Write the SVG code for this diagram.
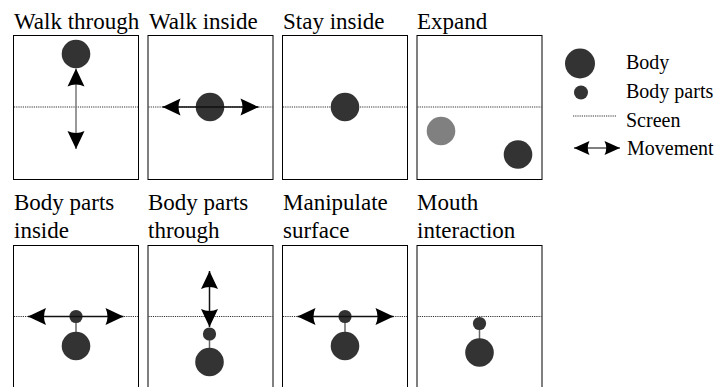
<svg xmlns="http://www.w3.org/2000/svg" width="718" height="387" viewBox="0 0 718 387">
  <style>
    text { font-family: 'Liberation Serif', 'Times New Roman', Times, 'DejaVu Serif', serif; fill: #000; }
    .frame { fill: #fff; stroke: #000; stroke-width: 1; }
    .screen { stroke: #333; stroke-width: 1; stroke-dasharray: 1.2 1; fill: none; }
    .body { fill: #333; }
    .ghost { fill: #808080; }
    .title { font-size: 23px; }
    .legend { font-size: 20px; }
    .move { stroke: #111; stroke-width: 1.5; fill: none; marker-start: url(#head); marker-end: url(#head); }
    .move-grey { stroke: #777; }
    .link { stroke: #666; stroke-width: 1.5; }
  </style>
  <defs>
    <marker id="head" markerUnits="userSpaceOnUse" viewBox="-20 -10 22 20" refX="0" refY="0" markerWidth="22" markerHeight="20" orient="auto-start-reverse" overflow="visible">
      <path d="M0,0 L-18,-8.5 Q-14,0 -18,8.5 Z" fill="#000"/>
    </marker>
    <marker id="head-sm" markerUnits="userSpaceOnUse" viewBox="-20 -10 22 20" refX="0" refY="0" markerWidth="22" markerHeight="20" orient="auto-start-reverse" overflow="visible">
      <path d="M0,0 L-15.5,-7 Q-12,0 -15.5,7 Z" fill="#000"/>
    </marker>
  </defs>

  <rect width="718" height="387" fill="#fff"/>

  <!-- top row -->
  <g id="walk-through">
    <text class="title" x="14" y="29">Walk through</text>
    <rect class="frame" x="13.5" y="35.5" width="125" height="144"/>
    <line class="screen" x1="14" y1="107" x2="138" y2="107"/>
    <circle class="body" cx="76" cy="54" r="14.3"/>
  </g>
  <g id="walk-inside">
    <text class="title" x="149" y="29">Walk inside</text>
    <rect class="frame" x="148" y="35.5" width="125" height="144"/>
    <line class="screen" x1="148.5" y1="107" x2="272.5" y2="107"/>
    <circle class="body" cx="210" cy="107" r="14.3"/>
  </g>
  <g id="stay-inside">
    <text class="title" x="283" y="29">Stay inside</text>
    <rect class="frame" x="282.5" y="35.5" width="125" height="144"/>
    <line class="screen" x1="283" y1="107" x2="407" y2="107"/>
    <circle class="body" cx="345" cy="107" r="14.3"/>
  </g>
  <g id="expand">
    <text class="title" x="417" y="29">Expand</text>
    <rect class="frame" x="417" y="35.5" width="125" height="144"/>
    <line class="screen" x1="417.5" y1="107" x2="541.5" y2="107"/>
    <circle class="ghost" cx="441" cy="131" r="14.3"/>
    <circle class="body" cx="518" cy="154.5" r="14.3"/>
  </g>

  <!-- bottom row -->
  <g id="body-parts-inside">
    <text class="title" x="14" y="210">Body parts</text>
    <text class="title" x="14" y="238">inside</text>
    <rect class="frame" x="13.5" y="245.5" width="125" height="150"/>
    <line class="screen" x1="14" y1="316.5" x2="138" y2="316.5"/>
    <line class="link" x1="76" y1="316.5" x2="76" y2="340"/>
    <circle class="body" cx="76" cy="316.5" r="6.6"/>
    <circle class="body" cx="76" cy="346" r="14.3"/>
  </g>
  <g id="body-parts-through">
    <text class="title" x="148" y="210">Body parts</text>
    <text class="title" x="148" y="238">through</text>
    <rect class="frame" x="148" y="245.5" width="125" height="150"/>
    <line class="screen" x1="148.5" y1="316.5" x2="272.5" y2="316.5"/>
    <line class="link" x1="209.5" y1="334" x2="209.5" y2="355"/>
    <circle class="body" cx="209.5" cy="334" r="6.6"/>
    <circle class="body" cx="209.5" cy="362" r="14.3"/>
  </g>
  <g id="manipulate-surface">
    <text class="title" x="283" y="210">Manipulate</text>
    <text class="title" x="283" y="238">surface</text>
    <rect class="frame" x="282.5" y="245.5" width="125" height="150"/>
    <line class="screen" x1="283" y1="316.5" x2="407" y2="316.5"/>
    <line class="link" x1="345" y1="316.5" x2="345" y2="340"/>
    <circle class="body" cx="345" cy="316.5" r="6.6"/>
    <circle class="body" cx="345" cy="346" r="14.3"/>
  </g>
  <g id="mouth-interaction">
    <text class="title" x="417" y="210">Mouth</text>
    <text class="title" x="417" y="238">interaction</text>
    <rect class="frame" x="417" y="245.5" width="125" height="150"/>
    <line class="screen" x1="417.5" y1="316.5" x2="541.5" y2="316.5"/>
    <line class="link" x1="479.5" y1="323.5" x2="479.5" y2="345"/>
    <circle class="body" cx="479.5" cy="323.5" r="6.6"/>
    <circle class="body" cx="479.5" cy="352.5" r="14.3"/>
  </g>

  <!-- movement arrows -->
  <g id="connectors">
    <line class="move move-grey" x1="76" y1="68.5" x2="76" y2="149"/>
    <line class="move" x1="162.5" y1="107" x2="258.5" y2="107"/>
    <line class="move" x1="28" y1="316.5" x2="123.5" y2="316.5"/>
    <line class="move" x1="209.5" y1="271" x2="209.5" y2="327"/>
    <line class="move" x1="297.5" y1="316.5" x2="393.5" y2="316.5"/>
  </g>

  <!-- legend -->
  <g id="legend">
    <circle class="body" cx="580" cy="63.5" r="15"/>
    <text class="legend" x="626" y="69">Body</text>
    <circle class="body" cx="581" cy="92.5" r="7"/>
    <text class="legend" x="626" y="98">Body parts</text>
    <line class="screen" x1="573" y1="116" x2="616" y2="116"/>
    <text class="legend" x="626" y="126.5">Screen</text>
    <line x1="574" y1="148" x2="620" y2="148" stroke="#000" stroke-width="1" marker-start="url(#head-sm)" marker-end="url(#head-sm)"/>
    <text class="legend" x="627" y="155">Movement</text>
  </g>
</svg>
